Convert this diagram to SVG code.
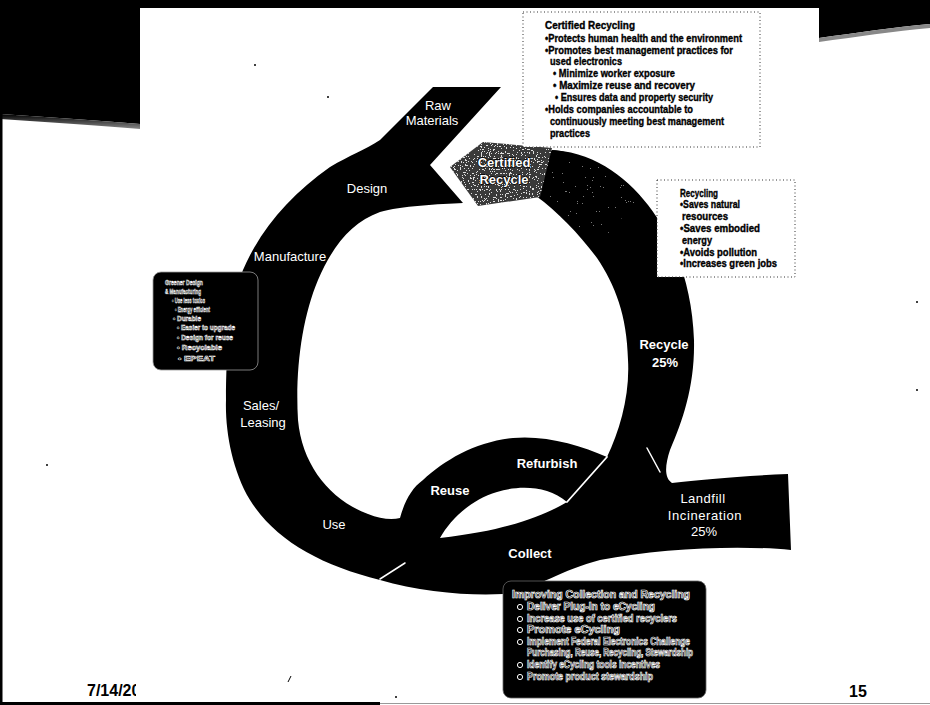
<svg xmlns="http://www.w3.org/2000/svg" width="930" height="705" viewBox="0 0 930 705">
  <style>
    .lbl { font-family: "Liberation Sans", Arial, sans-serif; fill: #fff; font-size: 13px; text-anchor: middle; }
    .lblb { font-family: "Liberation Sans", Arial, sans-serif; fill: #fff; font-size: 13px; font-weight: bold; text-anchor: middle; }
    .note { font-family: "Liberation Sans", Arial, sans-serif; fill: #000; stroke: #000; stroke-width: 0.35; font-size: 10px; font-weight: bold; }
    .ol { font-family: "Liberation Sans", Arial, sans-serif; fill: #000; stroke: #fff; stroke-width: 0.7; font-weight: bold; font-size: 10px; }
    .ols { font-family: "Liberation Sans", Arial, sans-serif; fill: #000; stroke: #fff; stroke-width: 0.5; font-weight: bold; font-size: 6.5px; }
    .dotbox { fill: #fff; stroke: #333; stroke-width: 1; stroke-dasharray: 1 2.5; }
    .sep { stroke: #fff; fill: none; stroke-linecap: round; }
    .foot { font-family: "Liberation Sans", Arial, sans-serif; fill: #000; font-weight: bold; font-size: 16px; }
    .speck { fill: #000; }
  </style>
  <defs>
    <filter id="grain" x="0" y="0" width="1" height="1" color-interpolation-filters="sRGB">
      <feTurbulence type="fractalNoise" baseFrequency="0.75" numOctaves="2" seed="5" result="n"/>
      <feColorMatrix in="n" type="luminanceToAlpha" result="a"/>
      <feComponentTransfer in="a" result="b"><feFuncA type="discrete" tableValues="0 0 0 0 0 0 0 0 0 0 0 0 1 1 1 1 1 1 1 1"/></feComponentTransfer>
      <feFlood flood-color="#ddd" result="w"/>
      <feComposite in="w" in2="b" operator="in" result="wd"/>
      <feComposite in="wd" in2="SourceAlpha" operator="in" result="wd2"/>
      <feMerge><feMergeNode in="SourceGraphic"/><feMergeNode in="wd2"/></feMerge>
    </filter>
    <filter id="grainLight" x="0" y="0" width="1" height="1" color-interpolation-filters="sRGB">
      <feTurbulence type="fractalNoise" baseFrequency="0.8" numOctaves="2" seed="11" result="n"/>
      <feColorMatrix in="n" type="luminanceToAlpha" result="a"/>
      <feComponentTransfer in="a" result="b"><feFuncA type="discrete" tableValues="0 0 0 0 0 0 0 0 0 0 0 0 0 0 1 1 1 1 1 1"/></feComponentTransfer>
      <feFlood flood-color="#777" result="w"/>
      <feComposite in="w" in2="b" operator="in" result="wd"/>
      <feComposite in="wd" in2="SourceAlpha" operator="in" result="wd2"/>
      <feMerge><feMergeNode in="SourceGraphic"/><feMergeNode in="wd2"/></feMerge>
    </filter>
    <linearGradient id="fadeL" x1="0" y1="0" x2="0" y2="1">
      <stop offset="0" stop-color="#000"/>
      <stop offset="1" stop-color="#888"/>
    </linearGradient>
    <clipPath id="dateClip"><rect x="0" y="660" width="136" height="45"/></clipPath>
  </defs>

  <rect width="930" height="705" fill="#fff"/>

  <!-- slide header and frame -->
  <g id="frame">
    <path d="M0,0 H140 V124 C100,121 50,117 0,114 Z" fill="#000"/>
    <path d="M0,114 C50,117 100,121 140,124 V129 C100,126 50,122 0,119 Z" fill="url(#fadeL)"/>
    <path d="M819,0 H930 V24 C895,27 855,33 819,38 Z" fill="#000"/>
    <path d="M819,38 C855,33 895,27 930,24 V28 C895,31 855,37 819,42 Z" fill="#888"/>
    <rect x="140" y="0" width="679" height="8" fill="#000"/>
    <rect x="0" y="0" width="2.5" height="705" fill="#000"/>
    <rect x="0" y="702" width="380" height="3" fill="#000"/>
    <rect x="380" y="703" width="550" height="1" fill="#999"/>
  </g>

  <!-- connectors: the life-cycle loop and its separators -->
  <g id="connectors">
    <path id="loop" fill="#000" d="M433,87 L501,87 L430,165 L463,203
      C440,204 400,206 380,212 C352,222 333,245 318,280 C302,318 295,370 298,420
      C302,465 330,500 368,514 C380,519 392,520 400,518
      C405,500 412,488 423,480 C445,460 475,442 513,438 C545,435 580,445 607,457
      C620,430 630,395 628,360 C627,315 615,285 597,258 C580,235 558,212 536,196
      L548,150 C590,150 625,175 648,205 C675,240 692,285 694,340
      C695,385 683,420 670,450 C665,465 664,478 672,483 C700,480 740,476 788,474
      L791,550 C740,545 660,548 600,560 C560,570 535,590 503,594
      C470,596 420,592 380,580 C320,565 275,540 250,500 C232,470 225,430 226,400
      C226,350 230,300 243,270 C260,230 290,195 330,167 C350,155 365,150 380,140 Z"/>
    <path d="M548,150 C580,151 615,168 640,196 C625,215 610,232 597,245 C580,228 560,210 540,197 Z" fill="#000" filter="url(#grainLight)"/>
    <path id="lens" fill="#fff" d="M440,538 C450,520 470,500 497,492 C520,485 548,486 567,502 C545,515 510,530 440,538 Z"/>
    <line class="sep" x1="567" y1="502" x2="607" y2="457" stroke-width="1.8"/>
    <line class="sep" x1="380" y1="579" x2="405" y2="563" stroke-width="1.5"/>
    <line class="sep" x1="647" y1="448" x2="660" y2="472" stroke-width="1.5"/>
  </g>

  <g id="raw-materials">
    <text class="lbl" x="438" y="110">Raw</text>
    <text class="lbl" x="432" y="125">Materials</text>
  </g>
  <g id="design"><text class="lbl" x="367" y="193">Design</text></g>
  <g id="manufacture"><text class="lbl" x="290" y="261">Manufacture</text></g>
  <g id="sales-leasing">
    <text class="lbl" x="261" y="410">Sales/</text>
    <text class="lbl" x="263" y="427">Leasing</text>
  </g>
  <g id="use"><text class="lbl" x="334" y="529">Use</text></g>
  <g id="reuse"><text class="lblb" x="450" y="495">Reuse</text></g>
  <g id="refurbish"><text class="lblb" x="547" y="468" font-size="13.5">Refurbish</text></g>
  <g id="collect"><text class="lblb" x="530" y="558">Collect</text></g>
  <g id="recycle">
    <text class="lblb" x="664" y="349" font-size="14">Recycle</text>
    <text class="lblb" x="665" y="367">25%</text>
  </g>
  <g id="landfill">
    <text class="lbl" x="703" y="503" letter-spacing="0.5">Landfill</text>
    <text class="lbl" x="705" y="520" letter-spacing="0.6">Incineration</text>
    <text class="lbl" x="704" y="536">25%</text>
  </g>

  <g id="certified-recycle">
    <path d="M450,167 L483,142 L552,148 L540,197 L478,206 Z" fill="#3a3a3a" filter="url(#grain)"/>
    <text class="lblb" x="504" y="167" stroke="#000" stroke-width="1.4" paint-order="stroke">Certified</text>
    <text class="lblb" x="504" y="184" stroke="#000" stroke-width="1.4" paint-order="stroke">Recycle</text>
  </g>

  <g id="certified-recycling-note">
    <rect class="dotbox" x="523" y="12" width="237" height="135"/>
    <text class="note" x="545" y="29" textLength="90" lengthAdjust="spacingAndGlyphs">Certified Recycling</text>
    <text class="note" x="545" y="42" textLength="197" lengthAdjust="spacingAndGlyphs">•Protects human health and the environment</text>
    <text class="note" x="545" y="54" textLength="188" lengthAdjust="spacingAndGlyphs">•Promotes best management practices for</text>
    <text class="note" x="550" y="65" textLength="72" lengthAdjust="spacingAndGlyphs">used electronics</text>
    <text class="note" x="553" y="77" textLength="122" lengthAdjust="spacingAndGlyphs">• Minimize worker exposure</text>
    <text class="note" x="553" y="89" textLength="142" lengthAdjust="spacingAndGlyphs">• Maximize reuse and recovery</text>
    <text class="note" x="555" y="101" textLength="158" lengthAdjust="spacingAndGlyphs">• Ensures data and property security</text>
    <text class="note" x="545" y="113" textLength="148" lengthAdjust="spacingAndGlyphs">•Holds companies accountable to</text>
    <text class="note" x="550" y="125" textLength="174" lengthAdjust="spacingAndGlyphs">continuously meeting best management</text>
    <text class="note" x="550" y="137" textLength="40" lengthAdjust="spacingAndGlyphs">practices</text>
  </g>

  <g id="recycling-note">
    <rect class="dotbox" x="657" y="180" width="138" height="97"/>
    <text class="note" x="680" y="197" font-size="9.5" textLength="38" lengthAdjust="spacingAndGlyphs">Recycling</text>
    <text class="note" x="680" y="208" font-size="9.5" textLength="60" lengthAdjust="spacingAndGlyphs">•Saves natural</text>
    <text class="note" x="682" y="220" font-size="9.5" textLength="46" lengthAdjust="spacingAndGlyphs">resources</text>
    <text class="note" x="680" y="232" font-size="9.5" textLength="80" lengthAdjust="spacingAndGlyphs">•Saves embodied</text>
    <text class="note" x="682" y="244" font-size="9.5" textLength="30" lengthAdjust="spacingAndGlyphs">energy</text>
    <text class="note" x="680" y="256" font-size="9.5" textLength="77" lengthAdjust="spacingAndGlyphs">•Avoids pollution</text>
    <text class="note" x="680" y="267" font-size="9.5" textLength="97" lengthAdjust="spacingAndGlyphs">•Increases green jobs</text>
  </g>

  <g id="design-note">
    <rect x="153" y="272" width="105" height="98" rx="8" fill="#000" stroke="#999" stroke-width="0.8"/>
    <text class="ols" x="165" y="285" textLength="38" lengthAdjust="spacingAndGlyphs">Greener Design</text>
    <text class="ols" x="165" y="294" textLength="36" lengthAdjust="spacingAndGlyphs">&amp; Manufacturing</text>
    <text class="ols" x="172" y="303" textLength="33" lengthAdjust="spacingAndGlyphs">• Use less toxics</text>
    <text class="ols" x="175" y="312" textLength="35" lengthAdjust="spacingAndGlyphs">• Energy efficient</text>
    <text class="ols" x="173" y="321" textLength="28" lengthAdjust="spacingAndGlyphs">• Durable</text>
    <text class="ols" x="177" y="330" textLength="58" lengthAdjust="spacingAndGlyphs">• Easier to upgrade</text>
    <text class="ols" x="177" y="340" textLength="56" lengthAdjust="spacingAndGlyphs">• Design for reuse</text>
    <text class="ols" x="177" y="350" textLength="45" lengthAdjust="spacingAndGlyphs">• Recyclable</text>
    <text class="ols" x="178" y="361" textLength="37" lengthAdjust="spacingAndGlyphs">• EPEAT</text>
  </g>

  <g id="collection-note">
    <rect x="503" y="581" width="203" height="117" rx="8" fill="#000" stroke="#666" stroke-width="0.8"/>
    <text class="ol" x="512" y="598" textLength="178" lengthAdjust="spacingAndGlyphs">Improving Collection and Recycling</text>
    <g fill="none" stroke="#fff" stroke-width="1">
      <circle cx="520" cy="607" r="2.6"/>
      <circle cx="520" cy="619" r="2.6"/>
      <circle cx="520" cy="630" r="2.6"/>
      <circle cx="520" cy="642" r="2.6"/>
      <circle cx="520" cy="665" r="2.6"/>
      <circle cx="520" cy="677" r="2.6"/>
    </g>
    <text class="ol" x="527" y="610" textLength="128" lengthAdjust="spacingAndGlyphs">Deliver Plug-In to eCycling</text>
    <text class="ol" x="527" y="622" textLength="150" lengthAdjust="spacingAndGlyphs">Increase use of certified recyclers</text>
    <text class="ol" x="527" y="633" textLength="93" lengthAdjust="spacingAndGlyphs">Promote eCycling</text>
    <text class="ol" x="527" y="645" textLength="163" lengthAdjust="spacingAndGlyphs">Implement Federal Electronics Challenge</text>
    <text class="ol" x="527" y="656" textLength="166" lengthAdjust="spacingAndGlyphs">Purchasing, Reuse, Recycling, Stewardship</text>
    <text class="ol" x="527" y="668" textLength="133" lengthAdjust="spacingAndGlyphs">Identify eCycling tools incentives</text>
    <text class="ol" x="527" y="680" textLength="126" lengthAdjust="spacingAndGlyphs">Promote product stewardship</text>
  </g>

  <!-- footer -->
  <g id="footer">
    <text class="foot" x="87" y="696" clip-path="url(#dateClip)">7/14/2010</text>
    <text class="foot" x="849" y="697">15</text>
  </g>

  <!-- stray marks -->
  <g id="specks">
    <circle class="speck" cx="255" cy="65" r="1"/>
    <circle class="speck" cx="328" cy="97" r="1"/>
    <circle class="speck" cx="47" cy="465" r="1"/>
    <circle class="speck" cx="917" cy="302" r="1"/>
    <circle class="speck" cx="917" cy="390" r="1"/>
    <circle class="speck" cx="396" cy="697" r="1"/>
    <path d="M288,682 L291,676" stroke="#000" stroke-width="1"/>
  </g>
</svg>
